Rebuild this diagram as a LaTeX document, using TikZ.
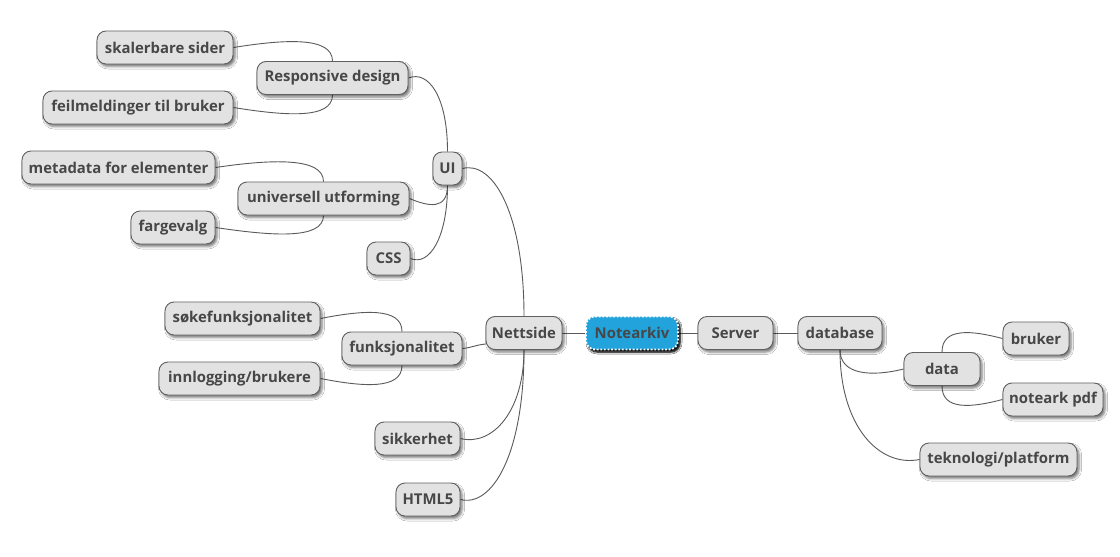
\documentclass[tikz,border=0pt]{standalone}
\usepackage{fontspec}
\setmainfont{Open Sans}
\usetikzlibrary{backgrounds,shadows.blur,calc}
\definecolor{nfill}{HTML}{E2E2E2}
\definecolor{nline}{HTML}{606060}
\definecolor{ntext}{HTML}{474747}
\definecolor{lnk}{HTML}{5A5A5A}
\definecolor{cblue}{HTML}{22A3DC}
\begin{document}
\begin{tikzpicture}[x=1pt,y=1pt,
  mm/.style={rectangle, rounded corners=9pt, draw=nline, line width=0.9pt, fill=nfill,
    text=ntext, minimum height=33pt, inner sep=0pt,
    font=\fontsize{14.9}{17}\selectfont\bfseries,
    blur shadow={shadow xshift=2pt, shadow yshift=-2.5pt, shadow blur radius=2.5pt, shadow opacity=55}},
  root/.style={mm, fill=cblue, draw=white, line width=1.8pt, dash pattern=on 1.8pt off 1.8pt,
    blur shadow={shadow xshift=2pt, shadow yshift=-2.5pt, shadow blur radius=2pt, shadow opacity=85}},
  lk/.style={draw=lnk, line width=0.9pt}]
\useasboundingbox (0,0) rectangle (1120,-557);

% nodes
\node[root, minimum width=92pt]  (root) at (632,-333) {Notearkiv};
\node[mm, minimum width=75pt]  (srv)  at (735.5,-333) {Server};
\node[mm, minimum width=84pt]  (db)   at (840,-333) {database};
\node[mm, minimum width=76pt]  (data) at (942,-369) {data};
\node[mm, minimum width=66pt]  (bru)  at (1036,-338.5) {bruker};
\node[mm, minimum width=100pt] (pdf)  at (1053,-399.5) {noteark pdf};
\node[mm, minimum width=157pt] (tek)  at (998.5,-459.5) {teknologi/platform};

\node[mm, minimum width=76pt]  (net)  at (524,-333) {Nettside};
\node[mm, minimum width=120pt] (funk) at (402,-348.5) {funksjonalitet};
\node[mm, minimum width=155pt] (soke) at (242.5,-318.5) {søkefunksjonalitet};
\node[mm, minimum width=161pt] (inn)  at (239.5,-378.5) {innlogging/brukere};
\node[mm, minimum width=85pt]  (sik)  at (417.5,-438.5) {sikkerhet};
\node[mm, minimum width=64pt]  (html) at (428,-499.5) {HTML5};

\node[mm, minimum width=29pt]  (ui)   at (447.5,-168.5) {UI};
\node[mm, minimum width=151pt] (rd)   at (332.5,-78) {Responsive design};
\node[mm, minimum width=136pt] (ska)  at (165,-47.5) {skalerbare sider};
\node[mm, minimum width=190pt] (feil) at (138,-107.5) {feilmeldinger til bruker};
\node[mm, minimum width=171pt] (uu)   at (323.5,-198.5) {universell utforming};
\node[mm, minimum width=193pt] (meta) at (118.5,-167.5) {metadata for elementer};
\node[mm, minimum width=84pt]  (farg) at (173,-227.5) {fargevalg};
\node[mm, minimum width=43pt]  (css)  at (388.5,-258.5) {CSS};

\coordinate (netf) at ($(net.west)+(0,-11)$);

\begin{scope}[on background layer]
\fill[white] (0,0) rectangle (1120,-557);
% straight links
\draw[lk] (root.west) -- (net.east);
\draw[lk] (root.east) -- (srv.west);
\draw[lk] (srv.east) -- (db.west);
\draw[lk] (funk.east) .. controls +(10,1) and +(-10,-1) .. (netf);
% right side
\draw[lk] (db.south) .. controls +(0,-25) and +(-32,-8) .. (data.west);
\draw[lk] (db.south) .. controls +(0,-77) and +(-40,-8) .. (tek.west);
\draw[lk] (data.north) .. controls +(0,25) and +(-30.5,8) .. (bru.west);
\draw[lk] (data.south) .. controls +(0,-25) and +(-30.5,-8) .. (pdf.west);
% Nettside children
\draw[lk] (net.north) .. controls +(0,103) and +(30.5,8) .. (ui.east);
\draw[lk] (net.south) .. controls +(0,-62) and +(31.5,-8) .. (sik.east);
\draw[lk] (net.south) .. controls +(0,-105) and +(31.5,-8) .. (html.east);
% funksjonalitet children
\draw[lk] (funk.north) .. controls +(0,25) and +(41,8) .. (soke.east);
\draw[lk] (funk.south) .. controls +(0,-25) and +(41,-8) .. (inn.east);
% UI children
\draw[lk] (ui.north) .. controls +(0,55) and +(20,8) .. (rd.east);
\draw[lk] (ui.south) .. controls +(0,-25) and +(19,-8) .. (uu.east);
\draw[lk] (ui.south) .. controls +(0,-52) and +(19,-8) .. (css.east);
% RD children
\draw[lk] (rd.north) .. controls +(0,25) and +(50,8) .. (ska.east);
\draw[lk] (rd.south) .. controls +(0,-25) and +(50,-8) .. (feil.east);
% uu children
\draw[lk] (uu.north) .. controls +(0,25) and +(54,8) .. (meta.east);
\draw[lk] (uu.south) .. controls +(0,-25) and +(54,-8) .. (farg.east);
\end{scope}
\end{tikzpicture}
\end{document}
